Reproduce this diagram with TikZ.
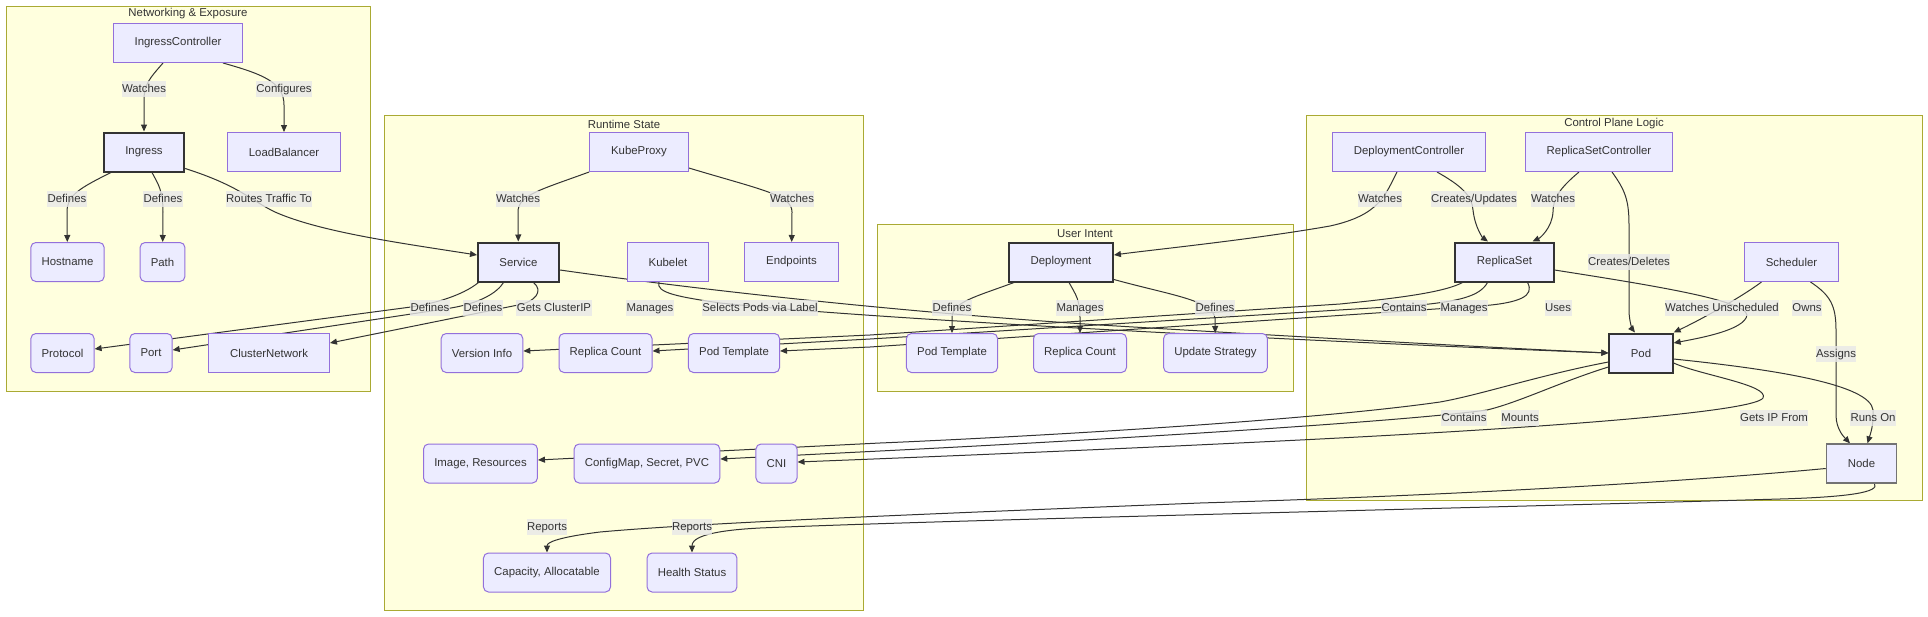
\documentclass[tikz,border=0pt]{standalone}
\usepackage{fontspec}
\setmainfont{Liberation Sans}
\usetikzlibrary{arrows.meta}

\definecolor{clfill}{HTML}{FFFFDE}
\definecolor{cldraw}{HTML}{AAAA33}
\definecolor{boxfill}{HTML}{ECECFF}
\definecolor{boxdraw}{HTML}{9370DB}
\definecolor{ink}{HTML}{333333}
\definecolor{lblfill}{HTML}{E8E8E8}

\pgfdeclarelayer{bg}
\pgfdeclarelayer{edges}
\pgfsetlayers{bg,edges,main}

\tikzset{
  box/.style={draw=boxdraw,fill=boxfill,line width=1pt,minimum height=39pt,inner xsep=21.5pt,text=ink},
  rbox/.style={box,rounded corners=5pt,inner xsep=10.7pt},
  kbox/.style={box,draw=ink,line width=2pt},
  gbox/.style={box,draw=black!55,line width=1.3pt},
  lbl/.style={fill=lblfill,fill opacity=0.8,text opacity=1,text=ink,inner xsep=0.5pt,inner ysep=2.5pt,text height=8.5pt,text depth=2.5pt},
  cluster/.style={draw=cldraw,fill=clfill,line width=1pt},
  link/.style={draw=ink,line width=1pt,-{Triangle[length=7pt,width=6pt]}}
}

\begin{document}
\begin{tikzpicture}[x=1pt,y=-1pt,font=\fontsize{11.4pt}{13.7pt}\selectfont]

        \useasboundingbox (0,0) rectangle (1928,616);

        \begin{pgfonlayer}{bg}
          \draw[cluster] (6,6)     rectangle (370,391);
          \draw[cluster] (384,115) rectangle (863,610);
          \draw[cluster] (877,224) rectangle (1293,391);
          \draw[cluster] (1306,115) rectangle (1922,500);
        \end{pgfonlayer}

        \begin{scope}[every node/.style={text=ink}]
          \node (tnet)  at (188,14)   {Networking \& Exposure};
          \node (trun)  at (624,124)  {Runtime State};
          \node (tuser) at (1085,234) {User Intent};
          \node (tctrl) at (1614,124) {Control Plane Logic};
        \end{scope}

        \begin{scope}[every node/.style={box}]
          \node (ictrl)   at (178,43)      {IngressController};
          \node[kbox] (ingress) at (144,152) {Ingress};
          \node (lb)      at (284,152)     {LoadBalancer};
          \node[rbox] (host)  at (67.5,262)  {Hostname};
          \node[rbox] (path)  at (162.5,262) {Path};
          \node[rbox] (proto) at (62.5,353)  {Protocol};
          \node[rbox] (port)  at (151,353)   {Port};
          \node (cnet)    at (269,353)     {ClusterNetwork};

          \node (kproxy)  at (639,152)     {KubeProxy};
          \node[kbox] (svc) at (518.5,262) {Service};
          \node (kubelet) at (668,262)     {Kubelet};
          \node (endp)    at (791.5,262)   {Endpoints};
          \node[rbox] (vinfo)   at (482,353)     {Version Info};
          \node[rbox] (rcount2) at (605.5,353)   {Replica Count};
          \node[rbox] (ptpl2)   at (734,353)     {Pod Template};
          \node[rbox] (imgres)  at (480.5,463.5) {Image, Resources};
          \node[rbox] (cfg)     at (647,463.5)   {ConfigMap, Secret, PVC};
          \node[rbox] (cni)     at (776.5,463.5) {CNI};
          \node[rbox] (cap)     at (547,572.5)   {Capacity, Allocatable};
          \node[rbox] (health)  at (692,572.5)   {Health Status};

          \node[kbox] (deploy) at (1061,262) {Deployment};
          \node[rbox] (ptpl)   at (952,353)    {Pod Template};
          \node[rbox] (rcount) at (1080,353)   {Replica Count};
          \node[rbox] (ustrat) at (1215.5,353) {Update Strategy};

          \node (dctrl)   at (1409,152)    {DeploymentController};
          \node (rsctrl)  at (1599,152)    {ReplicaSetController};
          \node[kbox] (rs)  at (1504.5,262) {ReplicaSet};
          \node (sched)   at (1791.5,262)  {Scheduler};
          \node[kbox] (pod) at (1641,353)  {Pod};
          \node[gbox] (nbox) at (1861.5,463.5) {Node};
        \end{scope}

        \begin{pgfonlayer}{edges}
          \draw[link] ([xshift=-15pt]ictrl.south) .. controls (150,78) and (144,84) .. (144,100) -- (ingress);
          \draw[link] ([xshift=45pt]ictrl.south) .. controls (262,74) and (284,82) .. (284,105) -- (lb);
          \draw[link] ([xshift=-33pt]ingress.south) .. controls (80,188) and (67,195) .. (67,212) -- (host);
          \draw[link] ([xshift=8pt]ingress.south) .. controls (158,184) and (163,190) .. (163,212) -- (path);
          \draw[link] ([yshift=4pt]ingress.south east) .. controls (240,186) and (250,200) .. (275,212)
                      .. controls (320,232) and (400,243) .. ([yshift=7pt]svc.west);

          \draw[link] (kproxy.south west) .. controls (540,190) and (518,195) .. (518,212) -- (svc);
          \draw[link] ([yshift=4pt]kproxy.south east) .. controls (762,190) and (792,195) .. (792,212) -- (endp);
          \draw[link] ([xshift=-40pt]svc.south) .. controls (462,296) and (432,304) .. (411,307) -- ([yshift=4pt]proto.east);
          \draw[link] ([xshift=-15pt]svc.south) .. controls (497,293) and (480,303) .. (451,308) -- ([yshift=3pt]port.east);
          \draw[link] ([xshift=15pt]svc.south) .. controls (544,291) and (535,302) .. (518,305) -- ([yshift=10pt]cnet.east);
          \draw[link] ([yshift=-8pt]svc.east) .. controls (700,290) and (900,312) .. (1100,325)
                      .. controls (1300,337) and (1500,348) .. (pod.west);
          \draw[link] ([xshift=-9pt]kubelet.south) .. controls (655,293) and (680,297) .. (720,303)
                      .. controls (900,322) and (1400,345) .. (pod.west);

          \draw[link] ([xshift=-47pt]deploy.south) .. controls (975,297) and (952,302) .. (952,318) -- (ptpl);
          \draw[link] ([xshift=8pt]deploy.south) .. controls (1076,295) and (1080,300) .. (1080,318) -- (rcount);
          \draw[link] ([yshift=3pt]deploy.south east) .. controls (1170,295) and (1212,300) .. (1215,318) -- (ustrat);

          \draw[link] ([xshift=-12pt]dctrl.south) .. controls (1385,195) and (1380,215) .. (1330,226)
                      .. controls (1250,240) and (1150,250) .. ([yshift=7pt]deploy.east);
          \draw[link] ([xshift=28pt]dctrl.south) .. controls (1460,185) and (1472,195) .. (1473,210)
                      .. controls (1475,228) and (1483,238) .. ([xshift=-16.5pt]rs.north);
          \draw[link] ([xshift=-20pt]rsctrl.south) .. controls (1560,188) and (1553,198) .. (1553,212)
                      .. controls (1552,228) and (1540,238) .. ([xshift=28pt]rs.north);
          \draw[link] ([xshift=13pt]rsctrl.south) .. controls (1625,190) and (1629,200) .. (1629,225) -- (1629,310)
                      .. controls (1629,322) and (1633,330) .. ([xshift=-6pt]pod.north);

          \draw[link] ([xshift=-42pt]rs.south) .. controls (1445,292) and (1400,298) .. (1340,304) -- (870,335) -- ([yshift=2pt]vinfo.east);
          \draw[link] ([xshift=-17pt]rs.south) .. controls (1480,296) and (1460,301) .. (1420,305) -- (870,339) -- ([yshift=2pt]rcount2.east);
          \draw[link] ([xshift=23pt]rs.south) .. controls (1535,296) and (1520,303) .. (1480,306) -- (870,347) -- ([yshift=2pt]ptpl2.east);
          \draw[link] ([yshift=-8pt]rs.east) .. controls (1650,285) and (1745,300) .. (1747,315)
                      .. controls (1745,330) and (1700,338) .. ([yshift=10pt]pod.east);
          \draw[link] ([xshift=-30pt]sched.south) .. controls (1740,298) and (1700,320) .. (pod.north east);
          \draw[link] ([xshift=19pt]sched.south) .. controls (1830,295) and (1836,305) .. (1836,330) -- (1836,415)
                      .. controls (1836,430) and (1845,438) .. ([xshift=-11.5pt]nbox.north);

          \draw[link] ([yshift=-6pt]pod.east) .. controls (1780,370) and (1870,385) .. (1873,410)
                      .. controls (1874,425) and (1870,435) .. ([xshift=6pt]nbox.north);
          \draw[link] ([yshift=-9pt]pod.west) .. controls (1540,375) and (1480,395) .. (1440,402)
                      .. controls (1300,422) and (1000,438) .. (880,443) -- ([yshift=3.5pt]imgres.east);
          \draw[link] ([yshift=-14pt]pod.west) .. controls (1560,382) and (1520,402) .. (1487,410)
                      .. controls (1400,422) and (1100,440) .. (880,451) -- ([yshift=4.5pt]cfg.east);
          \draw[link] ([yshift=-10pt]pod.east) .. controls (1700,375) and (1770,385) .. (1763,398)
                      .. controls (1755,410) and (1600,425) .. (1300,440)
                      .. controls (1100,450) and (900,458) .. ([yshift=1.5pt]cni.east);

          \draw[link] ([yshift=-5pt]nbox.west) .. controls (1650,485) and (1400,497) .. (1200,503)
                      .. controls (900,515) and (700,523) .. (600,532)
                      .. controls (560,537) and (547,542) .. (cap.north);
          \draw[link] ([xshift=13pt]nbox.south) .. controls (1880,492) and (1850,497) .. (1780,499)
                      .. controls (1400,510) and (950,520) .. (760,528)
                      .. controls (700,531) and (692,540) .. (health.north);
        \end{pgfonlayer}

        \begin{scope}[every node/.style={lbl}]
          \node (l1)  at (144,89)   {Watches};
          \node (l2)  at (284,89)   {Configures};
          \node (l3)  at (67,199)   {Defines};
          \node (l4)  at (163,199)  {Defines};
          \node (l5)  at (269,199)  {Routes Traffic To};
          \node (l6)  at (518,199)  {Watches};
          \node (l7)  at (792,199)  {Watches};
          \node (l8)  at (430,308)  {Defines};
          \node (l9)  at (483,308)  {Defines};
          \node (l10) at (554,308)  {Gets ClusterIP};
          \node (l11) at (650,308)  {Manages};
          \node (l12) at (760,308)  {Selects Pods via Label};
          \node (l13) at (952,308)  {Defines};
          \node (l14) at (1080,308) {Manages};
          \node (l15) at (1215,308) {Defines};
          \node (l16) at (1380,199) {Watches};
          \node (l17) at (1474,199) {Creates/Updates};
          \node (l18) at (1553,199) {Watches};
          \node (l19) at (1629,262) {Creates/Deletes};
          \node (l20) at (1404,308) {Contains};
          \node (l21) at (1464,308) {Manages};
          \node (l22) at (1558,308) {Uses};
          \node (l23) at (1722,308) {Watches Unscheduled};
          \node (l24) at (1807,308) {Owns};
          \node (l25) at (1836,354) {Assigns};
          \node (l26) at (1464,418) {Contains};
          \node (l27) at (1520,418) {Mounts};
          \node (l28) at (1774,418) {Gets IP From};
          \node (l29) at (1873,418) {Runs On};
          \node (l30) at (547,527)  {Reports};
          \node (l31) at (692,527)  {Reports};
        \end{scope}

      \end{tikzpicture}
\end{document}
